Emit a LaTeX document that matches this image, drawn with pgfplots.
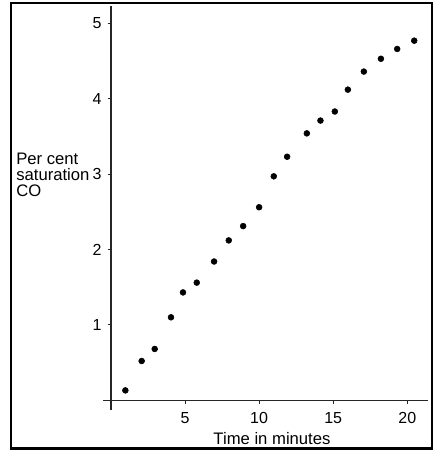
\documentclass[border=0pt]{standalone}
\usepackage{fontspec}
\setmainfont{Liberation Sans}
\usepackage{pgfplots}
\pgfplotsset{compat=1.18}
\begin{document}
\begin{tikzpicture}[x=0.75pt,y=0.75pt]
\path[use as bounding box] (0,0) rectangle (436,450);
\draw[line width=1.5pt] (11,1.5) rectangle (432,447);
\begin{axis}[
  at={(77.25pt,30pt)}, anchor=south west,
  scale only axis, width=243.75pt, height=303pt,
  xmin=-0.54, xmax=21.4, ymin=-0.13, ymax=5.23,
  axis lines=middle,
  axis line style={-, line width=0.8pt, black!85},
  xtick={5,10,15,20}, ytick={1,2,3,4,5},
  major tick length=2.5pt, tick align=outside,
  tick style={black!85, line width=0.6pt},
  /pgf/number format/assume math mode=true,
  tick label style={font=\fontsize{12}{14}\selectfont},
  xticklabel style={yshift=-3pt},
  yticklabel style={xshift=-1pt},
  clip=false,
]
\addplot[only marks, mark=*, mark size=2.2pt, black] coordinates {
(0.97,0.13) (2.07,0.52) (2.95,0.68) (4.05,1.10) (4.86,1.43) (5.79,1.56)
(6.96,1.84) (7.95,2.12) (8.92,2.31) (10.0,2.56) (10.99,2.97) (11.89,3.23)
(13.22,3.54) (14.14,3.71) (15.11,3.83) (15.99,4.12) (17.07,4.36) (18.22,4.53)
(19.32,4.66) (20.47,4.77)
};
\end{axis}
\node[anchor=north west, inner sep=0pt, align=left, font=\fontsize{12.5}{12}\selectfont] at (16,297) {Per cent\\saturation\\CO};
\node[anchor=base, inner sep=0pt, font=\fontsize{12.5}{14}\selectfont] at (272,6) {Time in minutes};
\end{tikzpicture}
\end{document}
